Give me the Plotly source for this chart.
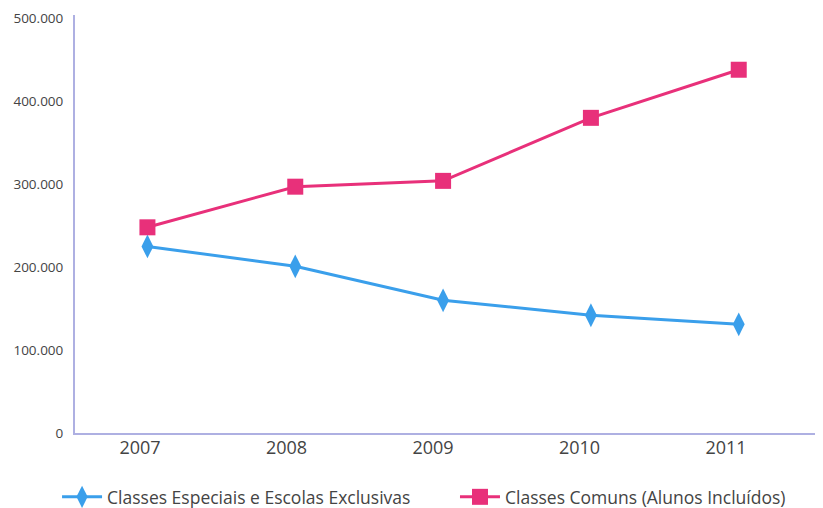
import plotly.graph_objects as go

years = [2007, 2008, 2009, 2010, 2011]
especiais = [225000, 201000, 160000, 142000, 131000]
comuns = [248000, 297000, 304000, 380000, 438000]
y_ticks = [0, 100000, 200000, 300000, 400000, 500000]

blue = "#3A9FEB"
pink = "#E8307A"
axis_col = "#AEB0E2"

fig = go.Figure()
fig.add_trace(go.Scatter(
    x=years, y=especiais, mode="lines+markers",
    name="Classes Especiais e Escolas Exclusivas",
    line=dict(color=blue, width=3),
    marker=dict(symbol="diamond-tall", size=17, color=blue),
    legend="legend",
))
fig.add_trace(go.Scatter(
    x=years, y=comuns, mode="lines+markers",
    name="Classes Comuns (Alunos Incluídos)",
    line=dict(color=pink, width=3),
    marker=dict(symbol="square", size=16, color=pink),
    legend="legend2",
))
# invisible helper trace carrying the year labels on a slightly offset axis
fig.add_trace(go.Scatter(
    x=years, y=[None] * len(years), xaxis="x2", showlegend=False,
    hoverinfo="skip", mode="markers",
))

leg_common = dict(
    orientation="h", yanchor="middle", y=-0.153, xanchor="left",
    font=dict(size=17.5, color="#444444"), itemwidth=40,
    bgcolor="rgba(0,0,0,0)",
)

fig.update_layout(
    width=815, height=500,
    margin=dict(l=67, r=0, t=7, b=75, autoexpand=False),
    paper_bgcolor="white", plot_bgcolor="white",
    separators=",.",
    font=dict(family="Open Sans", color="#444444"),
    showlegend=True,
    legend=dict(x=-0.024, **leg_common),
    legend2=dict(x=0.508, **leg_common),
    xaxis=dict(
        range=[2006.51, 2011.57], tickmode="array", tickvals=years,
        showticklabels=False,
        showgrid=False, zeroline=False, showline=True,
        linecolor=axis_col, linewidth=2, ticks="",
        automargin=False,
    ),
    xaxis2=dict(
        overlaying="x", side="bottom", anchor="y",
        range=[2006.556, 2011.662], tickmode="array", tickvals=years,
        ticktext=[str(y) for y in years],
        showgrid=False, zeroline=False, showline=False, ticks="",
        tickfont=dict(size=18, color="#444444"),
        ticklabelstandoff=2, automargin=False,
    ),
    yaxis=dict(
        range=[0, 504000], tickmode="array", tickvals=y_ticks,
        tickformat=",d",
        showgrid=False, zeroline=False, showline=True,
        linecolor=axis_col, linewidth=2, ticks="",
        tickfont=dict(size=13.5, color="#444444"),
        ticklabelstandoff=7, automargin=False,
    ),
)

fig.write_html("out.html")
